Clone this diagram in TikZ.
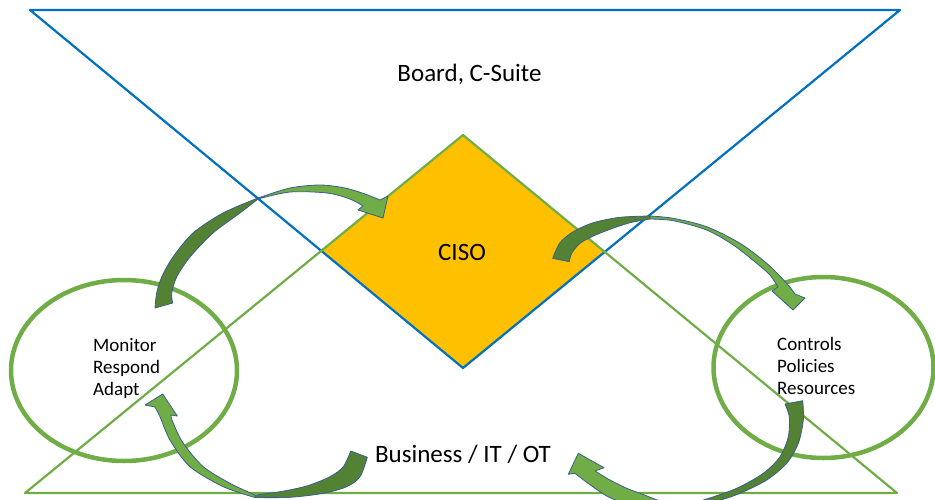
\documentclass[tikz,border=0pt]{standalone}
\usepackage{fontspec}
\setmainfont{Carlito}
\usetikzlibrary{calc}
\definecolor{cisoblue}{HTML}{0070C0}
\definecolor{cisogreen}{HTML}{70AD47}
\definecolor{cisogold}{HTML}{FFC000}
\definecolor{arrowdark}{HTML}{548235}
\definecolor{arrowedge}{HTML}{3B5E8C}
\tikzset{
  darkpart/.style={fill=arrowdark,draw=arrowedge,line width=0.8pt,line join=round},
  lightpart/.style={fill=cisogreen,draw=arrowedge,line width=0.8pt,line join=round},
  bigtext/.style={font=\fontsize{25}{30}\selectfont},
  smalltext/.style={font=\fontsize{19}{21.8}\selectfont,align=left,inner sep=0pt}
}
\begin{document}
\begin{tikzpicture}[x=1pt,y=-1pt]
\clip (0,0) rectangle (935,499);
%
\coordinate (bL) at (30,10);
\coordinate (bR) at (900,10);
\coordinate (bTip) at (463,368);
\coordinate (gL) at (25,493);
\coordinate (gR) at (897,493);
\coordinate (gTip) at (463,135);
\coordinate (dL) at (intersection of bL--bTip and gL--gTip);
\coordinate (dR) at (intersection of bR--bTip and gR--gTip);
%
\fill[cisogold] (gTip)--(dR)--(bTip)--(dL)--cycle;
\draw[cisoblue,line width=2.2pt,line join=round] (bL)--(bR)--(bTip)--cycle;
\draw[cisogreen,line width=2.2pt,line join=round] (gL)--(gR)--(gTip)--cycle;
\draw[cisogreen,line width=4.5pt] (124,370.5) ellipse [x radius=113,y radius=90.5];
\draw[cisogreen,line width=4.5pt] (823.5,367.5) ellipse [x radius=110,y radius=90.5];
%
% left ellipse -> CISO
\filldraw[darkpart] plot[smooth] coordinates {(155,308) (156.7,293) (161.7,277) (173,257) (193,233) (223,213) (258,198)}
  -- plot[smooth] coordinates {(258,199) (240,213) (213,233) (190,257) (176.7,277) (171.7,293) (172.7,303)} -- cycle;
\filldraw[lightpart] plot[smooth] coordinates {(258,198) (290,188) (320,185) (345,188) (365,194) (380,200)}
  -- (388,196) -- (383,218) -- (358,210)
  -- plot[smooth] coordinates {(363,206) (350,199) (327,193) (290,192) (258,199)} -- cycle;
% CISO -> right ellipse
\filldraw[darkpart] plot[smooth] coordinates {(552.7,258.3) (560,242.7) (573.3,231.7) (593.3,222.7) (620,217.3) (650,216)}
  -- plot[smooth] coordinates {(650,219) (630,222.7) (610,229.3) (593.3,236) (580,243.3) (571.7,253.3) (569.3,261.7)} -- cycle;
\filldraw[lightpart] plot[smooth] coordinates {(650,216) (673.3,218.3) (706.7,226.7) (740,243.3) (766.7,263.3) (786.7,283.3) (795,294)}
  -- (805,298) -- (793,310) -- (772,291)
  -- plot[smooth] coordinates {(778,287) (770,275) (756.7,263.3) (733.3,245) (706.7,230) (673.3,220.7) (650,219)} -- cycle;
% right ellipse -> business
\filldraw[darkpart] plot[smooth] coordinates {(802.7,400.7) (803.3,420) (798.3,443.3) (786.7,463.3) (766.7,480) (740,493.3) (716.7,501) (680,508)}
  -- plot[smooth] coordinates {(680,507) (706.7,499) (736.7,488.3) (763.3,473.3) (780,456.7) (788.3,436.7) (789.3,416.7) (785,404)} -- cycle;
\filldraw[lightpart] plot[smooth] coordinates {(680,508) (645,509) (613,499) (600,491.7) (586.7,482.3) (575,473.3)}
  -- (568.3,474.3) -- (578.3,453.3) -- (604,467.7)
  -- plot[smooth] coordinates {(595,471) (610,480) (626.7,488.3) (640,493.3) (660,501) (680,507)} -- cycle;
% business -> left ellipse
\filldraw[darkpart] plot[smooth] coordinates {(367.3,457.3) (360,476.7) (346.7,486.7) (323.3,493.3) (290,497.3) (255,497.5)}
  -- plot[smooth] coordinates {(255,495) (280,491.7) (306.7,486) (330,476.7) (343.3,466.7) (350.7,451)} -- cycle;
\filldraw[lightpart] plot[smooth] coordinates {(255,497.5) (223.3,486.7) (190,466.7) (170,440) (160,416.7) (155,407)}
  -- (145,405) -- (162.7,394) -- (177.3,416)
  -- plot[smooth] coordinates {(170.7,415) (173.3,423.3) (183.3,443.3) (203.3,466.7) (230,483.3) (255,495)} -- cycle;
%
\node[bigtext,anchor=base] (board) at (469.5,81) {Board, C-Suite};
\node[bigtext,anchor=base] (ciso) at (462,260) {CISO};
\node[bigtext,anchor=base] (biz) at (463,462) {Business / IT / OT};
\node[smalltext,anchor=base west] (watch) at (93,395) {Monitor\\Respond\\Adapt};
\node[smalltext,anchor=base west] (govern) at (777,394.5) {Controls\\Policies\\Resources};
\end{tikzpicture}
\end{document}
